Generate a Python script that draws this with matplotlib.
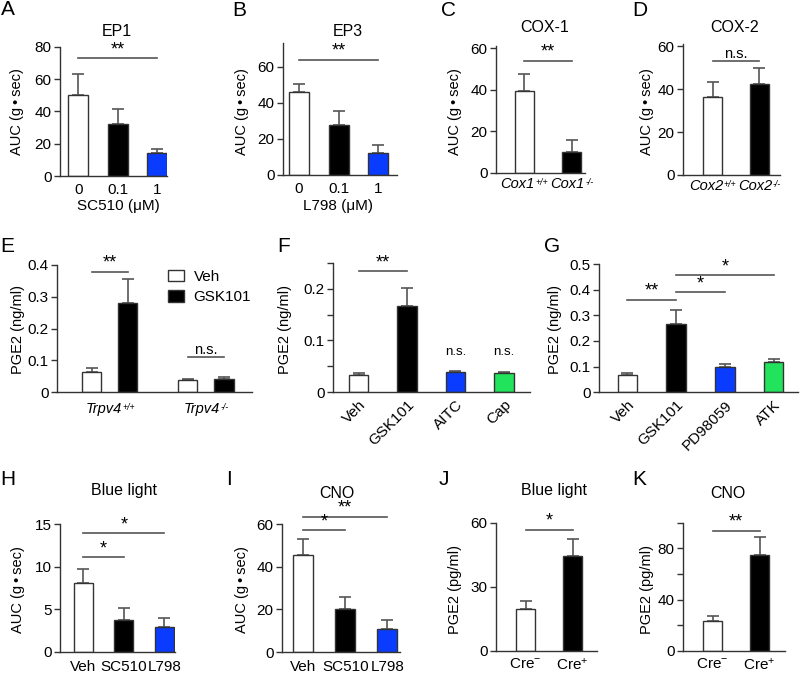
import numpy as np
import matplotlib
matplotlib.use("Agg")
import matplotlib.pyplot as plt

plt.rcParams['font.family'] = ['Liberation Sans', 'DejaVu Sans']
plt.rcParams['mathtext.fontset'] = 'custom'
plt.rcParams['mathtext.rm'] = 'Liberation Sans'
plt.rcParams['mathtext.it'] = 'Liberation Sans:italic'
plt.rcParams['axes.linewidth'] = 1.0

# ---- data ----
a_labels = ["0", "0.1", "1"]
a_vals = [50, 32, 14]
a_err = [13, 9.5, 2.5]

b_labels = ["0", "0.1", "1"]
b_vals = [46, 27.5, 12]
b_err = [4.5, 8, 4.5]

c_labels = ["Cox1", "Cox1"]
c_sups = ["+/+", "\u2010/\u2010"]
c_vals = [39.5, 10.2]
c_err = [8, 5.5]

d_labels = ["Cox2", "Cox2"]
d_sups = ["+/+", "\u2010/\u2010"]
d_vals = [36.5, 42.5]
d_err = [7, 7.5]

e_groups = ["Trpv4", "Trpv4"]
e_sups = ["+/+", "\u2010/\u2010"]
e_veh = [0.063, 0.040]
e_veh_err = [0.013, 0.002]
e_gsk = [0.28, 0.041]
e_gsk_err = [0.075, 0.008]

f_labels = ["Veh", "GSK101", "AITC", "Cap"]
f_vals = [0.033, 0.167, 0.039, 0.036]
f_err = [0.004, 0.035, 0.001, 0.002]

g_labels = ["Veh", "GSK101", "PD98059", "ATK"]
g_vals = [0.068, 0.265, 0.097, 0.12]
g_err = [0.008, 0.055, 0.015, 0.008]

h_labels = ["Veh", "SC510", "L798"]
h_vals = [8.1, 3.75, 2.95]
h_err = [1.6, 1.35, 0.95]

i_labels = ["Veh", "SC510", "L798"]
i_vals = [45.5, 20.3, 11]
i_err = [7.5, 5.5, 4]

j_labels = [r"Cre$^{-}$", r"Cre$^{+}$"]
j_vals = [19.7, 44.5]
j_err = [3.8, 8]

k_labels = [r"Cre$^{-}$", r"Cre$^{+}$"]
k_vals = [23.5, 75]
k_err = [3.5, 13.5]

BLUE = "#0a3cff"
GREEN = "#22e35c"
GREY = "#555555"
AUC = "AUC (g\u2009\u2022\u2009sec)"

W, H = 800, 675
fig = plt.figure(figsize=(8, 6.75), dpi=100, facecolor="white")


def px(x, y):
    # pixel position -> figure fraction
    return x / W, 1 - y / H


def make_ax(x0, x1, ytop, ybot, xlim, ylim):
    ax = fig.add_axes([x0 / W, 1 - ybot / H, (x1 - x0) / W, (ybot - ytop) / H])
    ax.spines[['top', 'right']].set_visible(False)
    ax.spines[['left', 'bottom']].set_color("#333333")
    ax.set_xlim(*xlim)
    ax.set_ylim(*ylim)
    ax.tick_params(axis='y', direction='out', length=4, width=1, labelsize=11, pad=2, color="#333333")
    ax.tick_params(axis='x', length=0, labelsize=11, pad=5)
    return ax


def bars(ax, x, vals, errs, colors, width):
    ax.bar(x, vals, width, color=colors, edgecolor="#333333", linewidth=1, zorder=2)
    ax.errorbar(x, vals, yerr=[np.zeros(len(vals)), errs], fmt='none', ecolor=GREY,
                elinewidth=1.2, capsize=4, capthick=1.2, zorder=1)


def sig(ax, x1, x2, y, txt):
    ax.plot([x1, x2], [y, y], color=GREY, lw=1.2, clip_on=False)
    if txt == "n.s.":
        ax.text((x1 + x2) / 2, y, txt, ha='center', va='bottom', fontsize=10.5)
    else:
        ax.text((x1 + x2) / 2, y, txt, ha='center', va='bottom', fontsize=13)


def sup_labels(ax, xs, bases, sups, size, pad):
    # italic genotype label with a small superscript, centred under the bar
    ax.set_xticks(xs)
    ax.set_xticklabels([])
    trans = ax.get_xaxis_transform()
    ss = size * 0.6
    for x, b, s in zip(xs, bases, sups):
        w = (1.45 if "+" in s else 0.95) * ss
        t = ax.annotate(b, xy=(x, 0), xycoords=trans, xytext=(-w / 2, -pad),
                        textcoords='offset points', ha='center', va='top',
                        fontsize=size, fontstyle='italic')
        ax.annotate(s, xy=(1, 0.95), xycoords=t, xytext=(0.3, 0), textcoords='offset points',
                    ha='left', va='top', fontsize=ss, fontstyle='italic')


def letter(x, y, s):
    fig.text(*px(x, y), s, fontsize=15, va='top', ha='left')


def title(x, y, s):
    fig.text(*px(x, y), s, fontsize=11.5, ha='center', va='center')


def ylab(x, y, s):
    fig.text(*px(x, y), s, fontsize=10.5, rotation=90, ha='center', va='center')


def yticks(ax, ticks, labels):
    ax.set_yticks(ticks)
    ax.set_yticklabels(labels)


# A
ax = make_ax(60, 167, 46.7, 176, (-0.46, 2.25), (0, 80))
bars(ax, [0, 1, 2], a_vals, a_err, ["white", "black", BLUE], 0.5)
ax.set_xticks([0, 1, 2])
ax.set_xticklabels(a_labels)
yticks(ax, [0, 20, 40, 60, 80], ["0", "20", "40", "60", "80"])
sig(ax, 0, 2, 73, "**")
fig.text(*px(118, 206), "SC510 (\u03bcM)", fontsize=11, ha='center', va='center')
letter(1, 0, "A")
title(117, 32, "EP1")
ylab(17, 112, AUC)

# B
ax = make_ax(283, 397, 43.3, 175, (-0.40, 2.47), (0, 73))
bars(ax, [0, 1, 2], b_vals, b_err, ["white", "black", BLUE], 0.5)
ax.set_xticks([0, 1, 2])
ax.set_xticklabels(b_labels)
yticks(ax, [0, 20, 40, 60], ["0", "20", "40", "60"])
sig(ax, 0, 2, 64, "**")
fig.text(*px(338, 206), "L798 (\u03bcM)", fontsize=11, ha='center', va='center')
letter(232, 1, "B")
title(348, 32, "EP3")
ylab(242, 112, AUC)

# C
ax = make_ax(496, 585, 46.3, 172.7, (-0.59, 1.28), (0, 61))
bars(ax, [0, 1], c_vals, c_err, ["white", "black"], 0.4)
sup_labels(ax, [0, 1], c_labels, c_sups, 10.5, 3)
yticks(ax, [0, 20, 40, 60], ["0", "20", "40", "60"])
sig(ax, 0, 1, 54, "**")
letter(441, 1, "C")
title(545, 27, "COX-1")
ylab(455, 112, AUC)

# D
ax = make_ax(683, 780, 44, 175, (-0.63, 1.44), (0, 61))
bars(ax, [0, 1], d_vals, d_err, ["white", "black"], 0.4)
sup_labels(ax, [0, 1], d_labels, d_sups, 10.5, 3)
yticks(ax, [0, 20, 40, 60], ["0", "20", "40", "60"])
sig(ax, 0, 1, 53, "n.s.")
letter(632, 1, "D")
title(735, 27, "COX-2")
ylab(647, 112, AUC)

# E
ax = make_ax(57, 252, 265, 392.3, (-0.55, 1.48), (0, 0.4))
xg = np.array([0, 1])
ax.bar(xg - 0.1875, e_veh, 0.2, color="white", edgecolor="#333333", lw=1, zorder=2, label="Veh")
ax.bar(xg + 0.1875, e_gsk, 0.2, color="black", edgecolor="#333333", lw=1, zorder=2, label="GSK101")
ax.errorbar(xg - 0.1875, e_veh, yerr=[[0, 0], e_veh_err], fmt='none', ecolor=GREY,
            elinewidth=1.2, capsize=4, capthick=1.2, zorder=1)
ax.errorbar(xg + 0.1875, e_gsk, yerr=[[0, 0], e_gsk_err], fmt='none', ecolor=GREY,
            elinewidth=1.2, capsize=4, capthick=1.2, zorder=1)
sup_labels(ax, xg, e_groups, e_sups, 10.5, 7)
yticks(ax, [0, 0.1, 0.2, 0.3, 0.4], ["0", "0.1", "0.2", "0.3", "0.4"])
sig(ax, -0.1875, 0.1875, 0.379, "**")
sig(ax, 1 - 0.1875, 1 + 0.1875, 0.112, "n.s.")
ax.legend(loc='upper left', bbox_to_anchor=px(160, 262), bbox_transform=fig.transFigure,
          frameon=False, fontsize=11, handlelength=1.1, handleheight=0.8,
          handletextpad=0.6, labelspacing=0.4, borderpad=0)
letter(0, 237, "E")
ylab(18, 330, "PGE2 (ng/ml)")

# F
ax = make_ax(333, 530, 263, 392, (-0.53, 3.54), (0, 0.25))
bars(ax, [0, 1, 2, 3], f_vals, f_err, ["white", "black", BLUE, GREEN], 0.4)
ax.set_xticks([0, 1, 2, 3])
ax.set_xticklabels(f_labels, rotation=45, ha='right', rotation_mode='anchor')
ax.tick_params(axis='x', pad=4)
yticks(ax, [0, 0.05, 0.1, 0.15, 0.2, 0.25], ["0", "", "0.1", "", "0.2", ""])
sig(ax, 0, 1, 0.234, "**")
ax.text(2, 0.066, "n.s.", ha='center', va='bottom', fontsize=9.5)
ax.text(3, 0.066, "n.s.", ha='center', va='bottom', fontsize=9.5)
letter(277, 237, "F")
ylab(285, 330, "PGE2 (ng/ml)")

# G
ax = make_ax(599, 798, 264, 392.3, (-0.585, 3.5), (0, 0.5))
bars(ax, [0, 1, 2, 3], g_vals, g_err, ["white", "black", BLUE, GREEN], 0.4)
ax.set_xticks([0, 1, 2, 3])
ax.set_xticklabels(g_labels, rotation=45, ha='right', rotation_mode='anchor')
ax.tick_params(axis='x', pad=4)
yticks(ax, [0, 0.1, 0.2, 0.3, 0.4, 0.5], ["0", "0.1", "0.2", "0.3", "0.4", "0.5"])
sig(ax, 0, 1, 0.36, "**")
sig(ax, 1, 2, 0.39, "*")
sig(ax, 1, 3, 0.457, "*")
letter(544, 237, "G")
ylab(555, 330, "PGE2 (ng/ml)")

# H
ax = make_ax(60, 175, 524, 651.7, (-0.58, 2.26), (0, 15))
bars(ax, [0, 1, 2], h_vals, h_err, ["white", "black", BLUE], 0.47)
ax.set_xticks([0, 1, 2])
ax.set_xticklabels(h_labels)
ax.tick_params(axis='x', pad=6)
yticks(ax, [0, 5, 10, 15], ["0", "5", "10", "15"])
sig(ax, 0, 1, 11.1, "*")
sig(ax, 0, 2, 13.9, "*")
letter(0, 470, "H")
title(124, 491, "Blue light")
ylab(18, 590, AUC)

# I
ax = make_ax(282, 400, 524, 652, (-0.5, 2.3), (0, 60))
bars(ax, [0, 1, 2], i_vals, i_err, ["white", "black", BLUE], 0.47)
ax.set_xticks([0, 1, 2])
ax.set_xticklabels(i_labels)
ax.tick_params(axis='x', pad=6)
yticks(ax, [0, 20, 40, 60], ["0", "20", "40", "60"])
sig(ax, 0, 1, 57, "*")
sig(ax, 0, 2, 63.3, "**")
letter(226, 470, "I")
title(337, 493, "CNO")
ylab(242, 590, AUC)

# J
ax = make_ax(496, 597, 523, 651, (-0.63, 1.52), (0, 60))
bars(ax, [0, 1], j_vals, j_err, ["white", "black"], 0.4)
ax.set_xticks([0, 1])
ax.set_xticklabels(j_labels)
ax.tick_params(axis='x', pad=4)
yticks(ax, [0, 30, 60], ["0", "30", "60"])
sig(ax, 0, 1, 56.9, "*")
letter(439, 470, "J")
title(554, 491, "Blue light")
ylab(455, 590, "PGE2 (pg/ml)")

# K
ax = make_ax(683, 785, 522.7, 651, (-0.63, 1.54), (0, 100))
bars(ax, [0, 1], k_vals, k_err, ["white", "black"], 0.4)
ax.set_xticks([0, 1])
ax.set_xticklabels(k_labels)
ax.tick_params(axis='x', pad=4)
yticks(ax, [0, 20, 40, 60, 80, 100], ["0", "", "40", "", "80", ""])
sig(ax, 0, 1, 93.8, "**")
letter(632, 470, "K")
title(728, 493, "CNO")
ylab(647, 590, "PGE2 (pg/ml)")

fig.savefig("out.png", dpi=100, facecolor="white")
